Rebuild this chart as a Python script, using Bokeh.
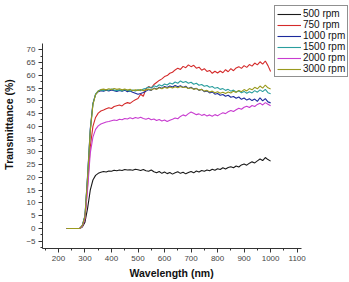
from bokeh.plotting import figure
from bokeh.models import Legend, LegendItem, FixedTicker, Range1d, Title
from bokeh.embed import file_html
from bokeh.resources import INLINE

# Wavelength grid (nm)
wavelength = list(range(230, 1001, 10))

# Transmittance (%) for each spin speed
t_500 = [0, 0, 0, 0, 0, 0, 0.6, 2.5, 8.0, 15.0,
         19.0, 20.8, 21.6, 22.0, 22.3, 22.1, 22.5, 22.4, 22.8, 22.6,
         22.9, 22.7, 23.1, 22.9, 23.0, 22.8, 23.2, 23.0, 22.7, 23.1,
         22.6, 22.4, 22.9, 22.2, 21.8, 22.3, 21.6, 22.1, 21.5, 21.9,
         21.3, 21.8, 22.2, 21.6, 22.0, 21.4, 21.9, 22.3, 21.8, 22.5,
         22.1, 22.7, 22.4, 22.9, 22.6, 23.2, 22.8, 23.4, 23.1, 23.8,
         23.3, 23.9, 24.2, 23.8, 24.5, 24.1, 24.9, 25.3, 24.8, 25.6,
         26.1, 25.7, 26.5, 27.2, 26.6, 27.8, 27.0, 26.4]
t_750 = [0, 0, 0, 0, 0, 0, 1.0, 4.0, 17.0, 32.0,
         40.0, 43.5, 45.2, 46.0, 46.4, 46.9, 47.3, 47.0, 47.8, 48.1,
         48.4, 48.0, 48.9, 49.3, 49.0, 49.8, 50.4, 50.9, 52.6, 51.8,
         54.7, 55.6, 55.1, 56.4, 57.2, 58.0, 58.6, 59.5, 59.9, 60.8,
         61.2, 62.1, 62.8, 62.3, 63.5, 63.0, 64.1, 63.4, 63.9, 62.8,
         63.2, 62.0, 62.6, 61.5, 61.9, 60.8, 61.6, 60.9, 61.7, 61.0,
         62.2, 61.4, 62.6, 61.8, 62.9, 63.4, 62.7, 63.8, 63.1, 64.2,
         63.6, 64.8, 64.1, 65.3, 64.4, 65.6, 63.8, 61.5]
t_1000 = [0, 0, 0, 0, 0, 0, 1.2, 5.0, 21.0, 39.0,
          49.0, 52.5, 53.6, 54.0, 53.8, 54.2, 53.9, 54.3, 54.0, 53.7,
          54.1, 53.8, 54.2, 53.6, 53.9, 53.4, 53.0, 52.6, 52.9, 53.3,
          53.8, 54.4, 54.1, 55.0, 54.6, 55.3, 54.9, 55.6, 55.2, 55.8,
          55.4, 56.0, 55.5, 55.9, 55.2, 55.7, 54.8, 55.3, 54.6, 54.9,
          54.1, 54.5, 53.6, 53.9, 53.1, 53.5, 52.6, 52.9, 52.2, 52.5,
          51.8, 52.2, 51.4, 51.7, 51.0, 51.5, 50.6, 51.1, 50.3, 50.8,
          50.1, 50.7, 49.8, 51.2, 50.0, 50.9, 49.6, 49.2]
t_1500 = [0, 0, 0, 0, 0, 0, 1.1, 4.8, 20.5, 38.5,
          48.8, 52.6, 53.9, 54.3, 54.0, 54.4, 54.1, 54.6, 54.2, 54.0,
          54.3, 53.9, 54.4, 54.1, 53.8, 54.2, 53.9, 54.3, 54.0, 54.6,
          54.9, 55.4, 55.0, 55.9, 55.5, 56.3, 55.8, 56.6, 56.2, 57.0,
          56.6, 57.4, 56.9, 57.8, 57.2, 57.6, 56.9, 57.3, 56.5, 56.9,
          56.1, 56.4, 55.7, 56.0, 55.3, 55.6, 54.9, 55.2, 54.5, 54.8,
          54.1, 54.5, 53.8, 54.2, 53.5, 53.9, 53.2, 53.7, 53.0, 53.6,
          53.1, 54.0, 53.4, 54.3, 53.6, 54.5, 53.2, 52.8]
t_2000 = [0, 0, 0, 0, 0, 0, 0.9, 3.8, 15.5, 29.5,
          35.8, 38.8, 40.2, 40.9, 41.3, 41.7, 41.9, 42.2, 42.5, 42.3,
          42.8, 42.6, 43.1, 42.9, 43.4, 43.0, 43.5, 43.2, 43.6, 43.1,
          42.8, 43.2, 42.6, 42.9, 42.3, 42.7, 42.1, 42.5, 41.9, 42.4,
          42.8, 43.3, 43.0, 43.9, 44.5, 44.1, 45.0, 45.6, 45.1, 44.6,
          44.9, 44.3, 44.7, 44.1, 44.5, 44.0, 44.6, 44.2, 44.8, 45.3,
          45.0, 45.7, 46.2, 45.8, 46.5, 47.1, 46.7, 47.5, 47.9, 47.4,
          48.2, 47.8, 48.6, 49.1, 48.4, 49.3, 48.7, 48.1]
t_3000 = [0, 0, 0, 0, 0, 0, 1.1, 4.6, 20.0, 38.0,
          48.5, 52.4, 53.8, 54.4, 54.6, 54.3, 54.7, 54.4, 54.8, 54.5,
          54.7, 54.3, 54.6, 54.2, 54.5, 54.0, 54.3, 54.1, 54.4, 54.0,
          54.3, 54.6, 54.2, 54.8, 54.5, 55.1, 54.7, 55.3, 54.9, 55.4,
          55.0, 55.5, 55.1, 55.6, 55.2, 55.4, 54.8, 55.1, 54.5, 54.8,
          54.2, 54.5, 53.8, 54.1, 53.5, 53.8, 53.2, 53.6, 53.0, 53.4,
          52.9, 53.5, 53.1, 53.8, 53.3, 54.1, 53.6, 54.4, 53.9, 54.8,
          54.3, 55.3, 54.7, 55.8, 55.0, 56.2, 55.1, 54.6]

series_labels = ["500 rpm", "750 rpm", "1000 rpm", "1500 rpm", "2000 rpm", "3000 rpm"]
series_values = [t_500, t_750, t_1000, t_1500, t_2000, t_3000]
series_colors = ["#1a1a1a", "#d42a2a", "#1c2a9c", "#2a9e9e", "#c83cd0", "#9a9a1e"]

x_ticks = list(range(200, 1101, 100))
x_minor = list(range(150, 1101, 50))
y_ticks = list(range(-5, 71, 5))
y_minor = [v / 2 for v in range(-15, 145, 5)]

FONT = "Liberation Sans"

# The frame fills the top and right of the canvas so the legend box can sit
# in the upper-right corner; the axes are bounded to the data area instead.
p = figure(width=349, height=282, output_backend="svg", toolbar_location=None,
           x_range=Range1d(139.9, 1297.4), y_range=Range1d(-7.83, 89.3),
           min_border_left=41, min_border_right=0, min_border_top=0,
           min_border_bottom=34)
p.outline_line_color = None
p.xgrid.visible = False
p.ygrid.visible = False
p.background_fill_color = "white"

renderers = []
for vals, col in zip(series_values, series_colors):
    r = p.line(wavelength, vals, line_color=col, line_width=1.1)
    renderers.append(r)

for ax in (p.xaxis[0], p.yaxis[0]):
    ax.axis_line_color = "#333333"
    ax.major_tick_line_color = "#333333"
    ax.minor_tick_line_color = "#333333"
    ax.major_tick_out = 4
    ax.major_tick_in = 0
    ax.minor_tick_out = 2
    ax.minor_tick_in = 0
    ax.major_label_text_font = FONT
    ax.major_label_text_font_size = "8px"
    ax.major_label_text_color = "#444444"
    ax.axis_label_text_font = FONT
    ax.axis_label_text_font_style = "bold"
    ax.axis_label_text_font_size = "10.5px"
    ax.axis_label_text_color = "#111111"

p.xaxis.bounds = (139.9, 1118)
p.yaxis.bounds = (-7.83, 72.4)
p.xaxis.ticker = FixedTicker(ticks=x_ticks, minor_ticks=x_minor)
p.yaxis.ticker = FixedTicker(ticks=y_ticks, minor_ticks=y_minor)
p.yaxis.axis_label = "Transmittance (%)"
p.xaxis.major_label_standoff = 3
p.yaxis.major_label_standoff = 3
p.yaxis.axis_label_standoff = 8

# x-axis title, centred under the bounded axis rather than the wide frame
x_title = Title(text="Wavelength (nm)", align="left", offset=87, standoff=2,
                text_font=FONT, text_font_style="bold", text_font_size="10.5px",
                text_color="#111111")
p.add_layout(x_title, "below")

legend = Legend(items=[LegendItem(label=lab, renderers=[r])
                       for lab, r in zip(series_labels, renderers)],
                location=(232, 171))
legend.label_text_font = FONT
legend.label_text_font_size = "10px"
legend.label_text_color = "#111111"
legend.label_height = 10
legend.label_standoff = 2
legend.glyph_width = 24
legend.glyph_height = 10
legend.spacing = 0
legend.padding = 2
legend.margin = 0
legend.border_line_color = "#222222"
legend.border_line_width = 1
legend.background_fill_alpha = 1.0
p.add_layout(legend, "center")

open("out.html", "w").write(file_html(p, INLINE))
